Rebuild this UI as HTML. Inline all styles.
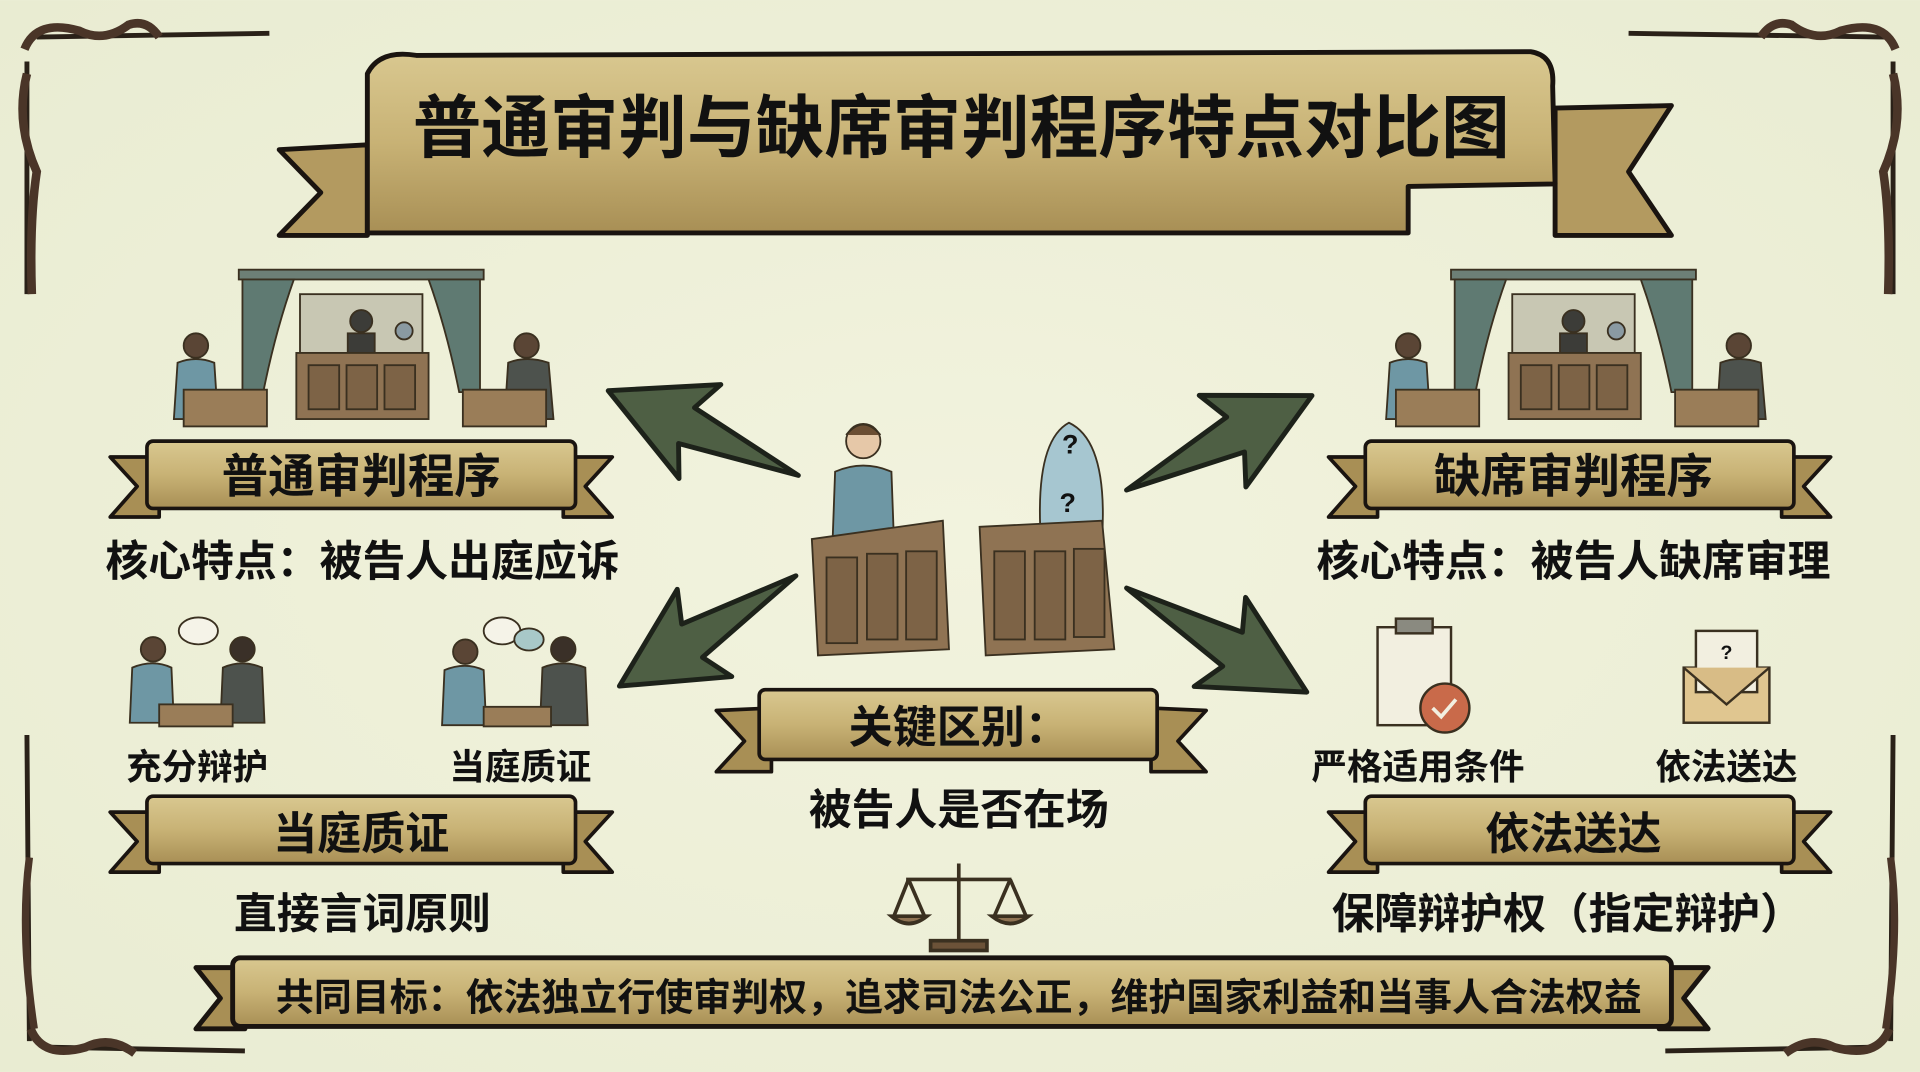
<!DOCTYPE html>
<html><head><meta charset="utf-8"><style>
html,body{margin:0;padding:0;background:#eef0d9;}
svg{display:block}
text{font-family:"Liberation Sans","Noto Sans CJK SC",sans-serif;font-weight:bold;fill:#111;}
</style></head><body>
<svg width="1920" height="1072" viewBox="0 0 1568 875" xmlns="http://www.w3.org/2000/svg">
<defs>
<linearGradient id="gold" x1="0" y1="0" x2="0" y2="1">
<stop offset="0" stop-color="#d9c890"/><stop offset="0.5" stop-color="#c8b275"/><stop offset="1" stop-color="#a88f55"/>
</linearGradient>
<radialGradient id="bg" cx="0.5" cy="0.5" r="0.7">
<stop offset="0" stop-color="#f2f3de"/><stop offset="1" stop-color="#e9ecd2"/>
</radialGradient>
<g id="arrow">
<polygon points="0,0 100,-16 88,-42 170,0 88,42 100,16" fill="#4e5f44" stroke="#1d221a" stroke-width="4" stroke-linejoin="round"/>
</g>
</defs>
<rect width="1568" height="875" fill="url(#bg)"/>
<!-- frame -->
<g fill="none" stroke="#2a2118" stroke-width="4">
<path d="M30 30 L220 27 M1330 27 L1540 30 M22 50 L22 240 M1546 50 L1546 240 M22 600 L24 850 M1546 600 L1544 850 M40 855 L200 858 M1360 858 L1530 855"/>
<path d="M20 40 q10 -25 45 -15 q20 10 40 -5 q15 -5 25 10" stroke-width="7" stroke="#4a3528"/>
<path d="M1548 40 q-10 -25 -45 -15 q-20 10 -40 -5 q-15 -5 -25 10" stroke-width="7" stroke="#4a3528"/>
<path d="M25 840 q10 25 45 15 q20 -10 40 5" stroke-width="7" stroke="#4a3528"/>
<path d="M1543 840 q-10 25 -45 15 q-20 -10 -40 5" stroke-width="7" stroke="#4a3528"/>
<path d="M22 60 q-10 40 8 80 q-6 40 -4 100" stroke-width="7" stroke="#4a3528"/>
<path d="M1546 60 q10 40 -8 80 q6 40 4 100" stroke-width="7" stroke="#4a3528"/>
<path d="M24 700 q-8 60 4 140" stroke-width="6" stroke="#4a3528"/>
<path d="M1544 700 q8 60 -4 140" stroke-width="6" stroke="#4a3528"/>
</g>
<!-- title banner -->
<g stroke="#1a1410" stroke-width="4" stroke-linejoin="round">
<polygon points="228,122 300,118 300,192 228,192 262,157" fill="#b39a60"/>
<polygon points="1365,86 1270,88 1270,192 1365,192 1330,140" fill="#b39a60"/>
<path d="M300 60 Q310 40 340 45 L1250 42 Q1270 45 1268 70 L1270 150 L1150 152 L1150 190 L300 190 L300 150 Z" fill="url(#gold)"/>
</g>
<text x="785" y="124" font-size="56" text-anchor="middle">普通审判与缺席审判程序特点对比图</text>
<!-- ribbon banners -->
<g id="rb" stroke="#1a1410" stroke-width="3" stroke-linejoin="round">
<polygon points="90,373 130,373 130,422 90,422 112,397" fill="#a88f55"/>
<polygon points="500,373 460,373 460,422 500,422 478,397" fill="#a88f55"/>
<rect x="120" y="360" width="350" height="55" rx="5" fill="url(#gold)"/>
</g>
<text x="295" y="402" font-size="38" text-anchor="middle">普通审判程序</text>
<use href="#rb" transform="translate(995,0)"/>
<text x="1285" y="402" font-size="38" text-anchor="middle">缺席审判程序</text>
<use href="#rb" transform="translate(0,290)"/>
<text x="295" y="693" font-size="36" text-anchor="middle">当庭质证</text>
<use href="#rb" transform="translate(995,290)"/>
<text x="1285" y="693" font-size="36" text-anchor="middle">依法送达</text>
<g stroke="#1a1410" stroke-width="3" stroke-linejoin="round">
<polygon points="585,580 630,578 630,630 585,630 608,605" fill="#a88f55"/>
<polygon points="985,580 940,578 940,630 985,630 962,605" fill="#a88f55"/>
<rect x="620" y="563" width="325" height="57" rx="5" fill="url(#gold)"/>
</g>
<text x="783" y="606" font-size="36" text-anchor="middle">关键区别：</text>
<!-- bottom banner -->
<g stroke="#1a1410" stroke-width="4" stroke-linejoin="round">
<polygon points="160,790 200,790 200,840 160,840 180,815" fill="#a88f55"/>
<polygon points="1395,790 1355,790 1355,840 1395,840 1375,815" fill="#a88f55"/>
<rect x="190" y="782" width="1175" height="56" rx="6" fill="url(#gold)"/>
</g>
<text x="783" y="825" font-size="31" text-anchor="middle">共同目标：依法独立行使审判权，追求司法公正，维护国家利益和当事人合法权益</text>
<!-- texts -->
<text x="296" y="470" font-size="35" text-anchor="middle">核心特点：被告人出庭应诉</text>
<text x="1285" y="470" font-size="35" text-anchor="middle">核心特点：被告人缺席审理</text>
<text x="161" y="636" font-size="29" text-anchor="middle">充分辩护</text>
<text x="425" y="636" font-size="29" text-anchor="middle">当庭质证</text>
<text x="1158" y="636" font-size="29" text-anchor="middle">严格适用条件</text>
<text x="1410" y="636" font-size="29" text-anchor="middle">依法送达</text>
<text x="296" y="758" font-size="35" text-anchor="middle">直接言词原则</text>
<text x="783" y="673" font-size="35" text-anchor="middle">被告人是否在场</text>
<text x="1280" y="758" font-size="35" text-anchor="middle">保障辩护权（指定辩护）</text>
<!-- arrows -->
<use href="#arrow" transform="translate(652,388) rotate(-156)"/>
<use href="#arrow" transform="translate(650,470) rotate(148)"/>
<use href="#arrow" transform="translate(920,400) rotate(-27)"/>
<use href="#arrow" transform="translate(920,480) rotate(30)"/>
<!-- courtroom -->
<g id="court" stroke="#3a3020" stroke-width="1.5">
<rect x="195" y="220" width="200" height="8" fill="#6d7f76"/>
<path d="M198 228 L240 228 Q225 270 215 320 L198 320 Z" fill="#5f7a72"/>
<path d="M392 228 L350 228 Q365 270 375 320 L392 320 Z" fill="#5f7a72"/>
<rect x="245" y="240" width="100" height="48" fill="#c8c7b3"/>
<circle cx="295" cy="262" r="9" fill="#3c3c38"/>
<rect x="284" y="272" width="22" height="18" fill="#3c3c38"/>
<circle cx="330" cy="270" r="7" fill="#8a9aa2"/>
<rect x="242" y="288" width="108" height="54" fill="#8f7353"/>
<rect x="252" y="298" width="25" height="36" fill="#7d6346"/><rect x="283" y="298" width="25" height="36" fill="#7d6346"/><rect x="314" y="298" width="25" height="36" fill="#7d6346"/>
<circle cx="160" cy="282" r="10" fill="#5a4535"/>
<path d="M145 296 Q160 290 175 296 L178 342 L142 342 Z" fill="#6e97a4"/>
<rect x="150" y="318" width="68" height="30" fill="#9a7d58"/>
<circle cx="430" cy="282" r="10" fill="#5a4535"/>
<path d="M415 296 Q430 290 448 296 L452 342 L412 342 Z" fill="#4d524d"/>
<rect x="378" y="318" width="68" height="30" fill="#9a7d58"/>
</g>
<use href="#court" transform="translate(990,0)"/>
<!-- left people icons -->
<g stroke="#3a3020" stroke-width="1.5">
<circle cx="125" cy="530" r="10" fill="#5a4535"/><path d="M108 545 Q125 538 140 545 L142 590 L106 590 Z" fill="#6e97a4"/>
<circle cx="198" cy="530" r="10" fill="#3a3028"/><path d="M182 545 Q198 538 214 545 L216 590 L180 590 Z" fill="#4d524d"/>
<rect x="130" y="575" width="60" height="18" fill="#9a7d58"/>
<ellipse cx="162" cy="515" rx="16" ry="11" fill="#f5f3e8"/>
<circle cx="380" cy="532" r="10" fill="#5a4535"/><path d="M363 547 Q380 540 395 547 L397 592 L361 592 Z" fill="#6e97a4"/>
<circle cx="460" cy="530" r="10" fill="#3a3028"/><path d="M443 545 Q460 538 478 545 L480 592 L441 592 Z" fill="#4d524d"/>
<rect x="395" y="577" width="55" height="16" fill="#9a7d58"/>
<ellipse cx="410" cy="515" rx="15" ry="11" fill="#f5f3e8"/><ellipse cx="432" cy="522" rx="12" ry="9" fill="#a8c8c8"/>
</g>
<!-- center defendants -->
<g stroke="#3a3020" stroke-width="1.5">
<circle cx="705" cy="360" r="14" fill="#e6c8a8"/><path d="M691 355 Q705 338 719 355" fill="#6b4e33"/>
<path d="M682 385 Q705 375 728 385 L730 440 L680 440 Z" fill="#6e97a4"/>
<path d="M663 440 L770 425 L775 530 L668 535 Z" fill="#8f7353"/>
<rect x="675" y="455" width="25" height="70" fill="#7d6346"/><rect x="708" y="452" width="25" height="70" fill="#7d6346"/><rect x="740" y="450" width="25" height="72" fill="#7d6346"/>
<path d="M850 440 Q845 360 873 345 Q905 360 900 440 Z" fill="#a6c6d0"/>
<path d="M800 430 L900 425 L910 530 L805 535 Z" fill="#8f7353"/>
<rect x="812" y="450" width="25" height="72" fill="#7d6346"/><rect x="845" y="450" width="25" height="72" fill="#7d6346"/><rect x="877" y="448" width="25" height="72" fill="#7d6346"/>
</g>
<text x="874" y="370" font-size="22" text-anchor="middle" fill="#2f4a55">?</text>
<text x="872" y="418" font-size="22" text-anchor="middle" fill="#2f4a55">?</text>
<!-- right icons -->
<g stroke="#3a3020" stroke-width="2">
<rect x="1125" y="512" width="60" height="80" fill="#f2efe0"/>
<rect x="1140" y="505" width="30" height="12" fill="#8a8a80"/>
<circle cx="1180" cy="578" r="20" fill="#c96a4a"/>
<path d="M1170 578 l7 7 l12 -14" stroke="#f2efe0" stroke-width="3" fill="none"/>
<rect x="1375" y="545" width="70" height="45" fill="#e0c690"/>
<rect x="1385" y="515" width="50" height="50" fill="#f2efe0"/>
<path d="M1375 545 L1410 575 L1445 545" fill="#d8bc86"/>
</g>
<text x="1410" y="538" font-size="16" text-anchor="middle">?</text>
<!-- scales -->
<g stroke="#3a3020" stroke-width="3" fill="none">
<line x1="783" y1="705" x2="783" y2="770"/><line x1="740" y1="718" x2="826" y2="718"/>
<path d="M742 718 L730 748 M742 718 L755 748 M825 718 L812 748 M825 718 L838 748"/>
<path d="M728 748 Q742 760 757 748 Z M810 748 Q825 760 840 748 Z" fill="#8f7353"/>
<rect x="760" y="768" width="46" height="8" fill="#6b5238"/>
</g>
</svg>
</body></html>
